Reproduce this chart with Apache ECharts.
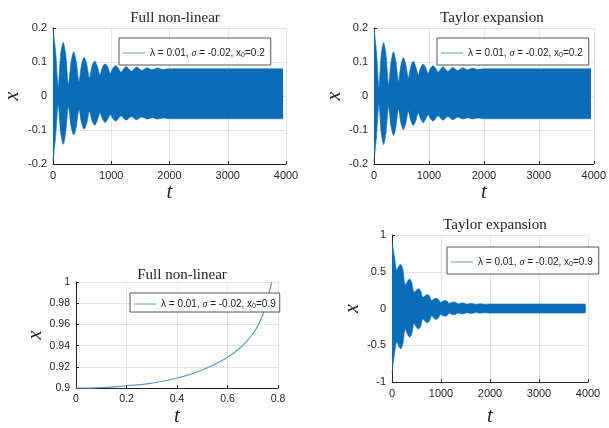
<!DOCTYPE html>
<html><head><meta charset="utf-8">
<script src="https://cdn.jsdelivr.net/npm/echarts@6/dist/echarts.min.js"></script>
<style>html,body{margin:0;padding:0;background:#fff}#c{width:609px;height:428px}</style>
</head><body><div id="c"></div>
<script>
// Plot 1: Full non-linear, x0 = 0.2 (envelope of the dense oscillation)
const t1 = [0, 45, 90, 130, 175, 220, 265, 310, 355, 400, 445, 490, 535, 580, 625, 670, 715, 760, 805, 850, 895, 940, 985, 1030, 1075, 1120, 1165, 1255, 1345, 1435, 1525, 1615, 1705, 1795, 1885, 2000, 3950];
const up1 = [0.2, 0.13, 0.026, 0.12, 0.158, 0.12, 0.033, 0.1, 0.13, 0.1, 0.043, 0.092, 0.114, 0.093, 0.053, 0.088, 0.103, 0.088, 0.061, 0.085, 0.095, 0.085, 0.066, 0.083, 0.09, 0.083, 0.07, 0.087, 0.073, 0.085, 0.075, 0.083, 0.077, 0.082, 0.078, 0.08, 0.08];
const lo1 = [-0.19, -0.12, -0.025, -0.105, -0.142, -0.105, -0.03, -0.09, -0.115, -0.09, -0.038, -0.08, -0.098, -0.08, -0.045, -0.073, -0.086, -0.073, -0.05, -0.068, -0.078, -0.068, -0.055, -0.067, -0.074, -0.067, -0.058, -0.071, -0.06, -0.07, -0.062, -0.068, -0.064, -0.068, -0.065, -0.067, -0.067];
// Plot 2: Taylor expansion, x0 = 0.2
const t2 = [0, 45, 90, 130, 175, 220, 265, 310, 355, 400, 445, 490, 535, 580, 625, 670, 715, 760, 805, 850, 895, 940, 985, 1030, 1075, 1120, 1165, 1255, 1345, 1435, 1525, 1615, 1705, 1795, 1885, 2000, 3950];
const up2 = [0.2, 0.13, 0.026, 0.12, 0.157, 0.12, 0.033, 0.1, 0.13, 0.1, 0.043, 0.091, 0.113, 0.092, 0.053, 0.087, 0.102, 0.087, 0.061, 0.084, 0.094, 0.084, 0.066, 0.082, 0.089, 0.082, 0.07, 0.086, 0.073, 0.084, 0.075, 0.083, 0.077, 0.082, 0.078, 0.08, 0.08];
const lo2 = [-0.19, -0.12, -0.025, -0.106, -0.143, -0.106, -0.03, -0.09, -0.116, -0.09, -0.038, -0.08, -0.099, -0.08, -0.045, -0.073, -0.087, -0.073, -0.05, -0.068, -0.079, -0.068, -0.055, -0.067, -0.074, -0.067, -0.058, -0.071, -0.06, -0.07, -0.062, -0.068, -0.064, -0.068, -0.065, -0.067, -0.067];
// Plot 3: Full non-linear, x0 = 0.9
const t3 = [0, 0.1, 0.2, 0.3, 0.4, 0.5, 0.6, 0.65, 0.7, 0.73, 0.75, 0.765, 0.775];
const x3 = [0.9, 0.9005, 0.9022, 0.9047, 0.9095, 0.917, 0.929, 0.938, 0.951, 0.9635, 0.977, 0.99, 1.0];
// Plot 4: Taylor expansion, x0 = 0.9
const t4 = [0, 50, 100, 140, 180, 225, 270, 315, 360, 405, 450, 495, 540, 585, 630, 675, 720, 765, 810, 855, 900, 945, 990, 1035, 1080, 1125, 1170, 1215, 1260, 1305, 1350, 1440, 1530, 1620, 1710, 1800, 1890, 2000, 3950];
const up4 = [0.92, 0.7, 0.52, 0.58, 0.6, 0.52, 0.32, 0.37, 0.4, 0.35, 0.22, 0.25, 0.27, 0.24, 0.15, 0.175, 0.19, 0.17, 0.11, 0.13, 0.14, 0.125, 0.085, 0.1, 0.11, 0.1, 0.07, 0.083, 0.09, 0.082, 0.062, 0.078, 0.058, 0.07, 0.057, 0.065, 0.058, 0.062, 0.062];
const lo4 = [-0.88, -0.62, -0.45, -0.52, -0.55, -0.47, -0.28, -0.35, -0.39, -0.34, -0.2, -0.25, -0.28, -0.24, -0.14, -0.175, -0.195, -0.17, -0.1, -0.132, -0.148, -0.13, -0.08, -0.096, -0.105, -0.095, -0.066, -0.078, -0.085, -0.077, -0.06, -0.075, -0.057, -0.068, -0.056, -0.064, -0.058, -0.062, -0.062];

const titles = ['Full non-linear', 'Taylor expansion', 'Full non-linear', 'Taylor expansion'];
const x0vals = ['0.2', '0.2', '0.9', '0.9'];
const xTicks1 = [0, 1000, 2000, 3000, 4000];
const yTicks1 = [-0.2, -0.1, 0, 0.1, 0.2];
const xTicks3 = [0, 0.2, 0.4, 0.6, 0.8];
const yTicks3 = [0.9, 0.92, 0.94, 0.96, 0.98, 1];
const yTicks4 = [-1, -0.5, 0, 0.5, 1];

const FILL = '#0b6cb8';
const LINE = '#5a9bd0';
const serif = 'Liberation Serif';
const sans = 'Liberation Sans';

const grids = [
  {left: 53, top: 28, width: 233, height: 136},
  {left: 374, top: 28, width: 224, height: 136},
  {left: 76, top: 282, width: 202, height: 112},
  {left: 392, top: 235, width: 196, height: 147}
];
const titlePos = [[170, 6], [487, 6], [177, 263], [490, 213]];
const legendPos = [[119, 38], [437, 38], [130, 293], [447, 247]];
const xNameGap = [9, 9, 15, 24];
const yNameGap = [30, 27, 27, 27];

function axisCommon(ticks, fs) {
  return {
    type: 'value', min: ticks[0], max: ticks[ticks.length - 1],
    interval: ticks[1] - ticks[0],
    axisLine: {show: true, onZero: false, lineStyle: {color: '#262626', width: 1}},
    axisTick: {show: true, inside: true, length: 3, lineStyle: {color: '#262626'}},
    splitLine: {show: true, lineStyle: {color: '#e3e3e3', width: 1}},
    axisLabel: {fontFamily: sans, fontSize: fs, color: '#262626', margin: 6,
      formatter: v => String(+v.toFixed(4))}
  };
}
const xA = [xTicks1, xTicks1, xTicks3, xTicks1];
const yA = [yTicks1, yTicks1, yTicks3, yTicks4];
const xAxis = [], yAxis = [];
for (let i = 0; i < 4; i++) {
  const fs = i === 2 ? 10.5 : 11;
  xAxis.push(Object.assign(axisCommon(xA[i], fs), {gridIndex: i, name: 't', nameLocation: 'middle', nameGap: xNameGap[i],
    nameTextStyle: {fontFamily: serif, fontStyle: 'italic', fontSize: 21, color: '#222'}}));
  yAxis.push(Object.assign(axisCommon(yA[i], fs), {gridIndex: i, name: 'x', nameLocation: 'middle', nameGap: yNameGap[i],
    nameTextStyle: {fontFamily: serif, fontStyle: 'italic', fontSize: 20, color: '#222'}}));
}

const rich = {
  n: {fontFamily: sans, fontSize: 10, color: '#222', lineHeight: 12},
  i: {fontFamily: serif, fontStyle: 'italic', fontSize: 10, color: '#222', lineHeight: 12},
  s: {fontFamily: sans, fontSize: 7, color: '#222', lineHeight: 12, verticalAlign: 'bottom', padding: [8, 0, 0, 0]}
};
const title = titles.map((t, i) => ({
  text: t, left: titlePos[i][0], top: titlePos[i][1], textAlign: 'center',
  textStyle: {fontFamily: serif, fontWeight: 'normal', fontSize: 15, color: '#222'}
}));
const legend = x0vals.map((v, i) => ({
  data: ['s' + i], left: legendPos[i][0], top: legendPos[i][1],
  icon: 'rect', itemWidth: 22, itemHeight: 1, itemGap: 4,
  itemStyle: {color: LINE},
  padding: i === 2 ? [2, 4, 2, 4] : [6, 6, 6, 4],
  borderColor: '#555', borderWidth: 1, backgroundColor: '#fff',
  selectedMode: false,
  formatter: () => '{n|λ = 0.01, }{i|σ}{n| = -0.02, x}{s|0}{n|=' + v + '}',
  textStyle: {rich: rich}
}));

// overlap of the two halves across zero so no seam shows
function area(name, idx, ts, vs, origin) {
  return {
    name: name, type: 'line', xAxisIndex: idx, yAxisIndex: idx,
    data: ts.map((t, k) => [t, vs[k]]), symbol: 'none', smooth: 0.25,
    lineStyle: {color: FILL, width: 0.6}, itemStyle: {color: FILL},
    areaStyle: {color: FILL, opacity: 1, origin: origin}, silent: true
  };
}
const series = [
  area('s0', 0, t1, up1, -0.01), area('s0lo', 0, t1, lo1, 0.01),
  area('s1', 1, t2, up2, -0.01), area('s1lo', 1, t2, lo2, 0.01),
  {name: 's2', type: 'line', xAxisIndex: 2, yAxisIndex: 2, data: t3.map((t, k) => [t, x3[k]]),
   symbol: 'none', smooth: true, lineStyle: {color: LINE, width: 1.2}, itemStyle: {color: LINE}},
  area('s3', 3, t4, up4, -0.04), area('s3lo', 3, t4, lo4, 0.04)
];

const chart = echarts.init(document.getElementById('c'), null, {renderer: 'canvas'});
chart.setOption({animation: false, backgroundColor: '#fff', title, legend, grid: grids, xAxis, yAxis, series});
</script></body></html>
